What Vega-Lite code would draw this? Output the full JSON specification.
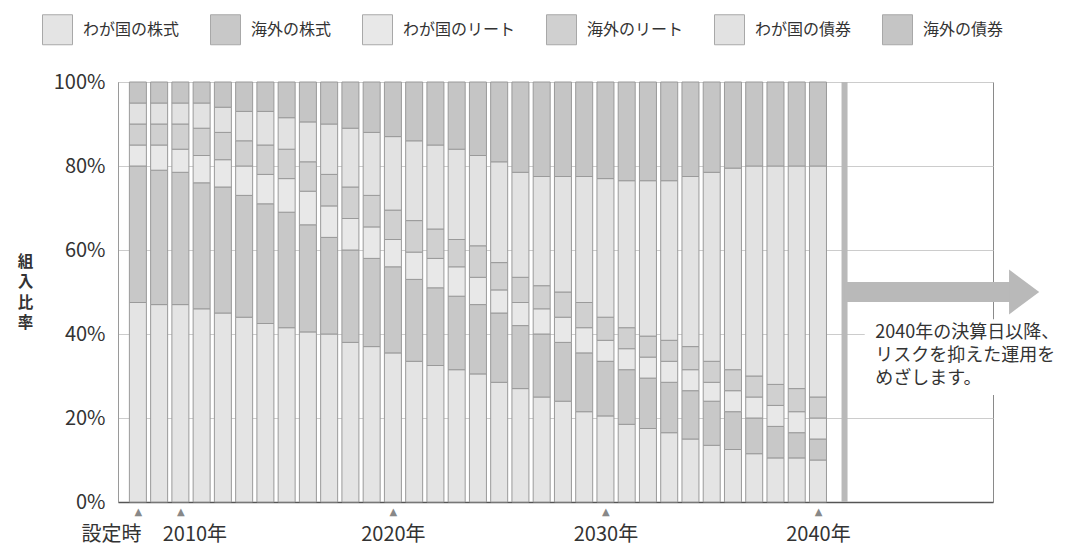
{
  "$schema": "https://vega.github.io/schema/vega-lite/v6.json",
  "width": 875,
  "height": 420,
  "autosize": {"type": "none"},
  "padding": {"left": 118, "top": 82, "right": 94, "bottom": 46},
  "background": "white",
  "config": {
    "font": "Noto Sans CJK JP",
    "view": {"stroke": "#8a8a8a", "strokeWidth": 1},
    "axis": {"labelFont": "Noto Sans CJK JP", "titleFont": "Noto Sans CJK JP"}
  },
  "resolve": {"axis": {"x": "independent"}},
  "layer": [
    {
      "data": {
        "values": [
          {"年": 2008, "わが国の株式": 47.5, "海外の株式": 32.5, "わが国のリート": 5, "海外のリート": 5, "わが国の債券": 5, "海外の債券": 5},
          {"年": 2009, "わが国の株式": 47, "海外の株式": 32, "わが国のリート": 6, "海外のリート": 5, "わが国の債券": 5, "海外の債券": 5},
          {"年": 2010, "わが国の株式": 47, "海外の株式": 31.5, "わが国のリート": 5.5, "海外のリート": 6, "わが国の債券": 5, "海外の債券": 5},
          {"年": 2011, "わが国の株式": 46, "海外の株式": 30, "わが国のリート": 6.5, "海外のリート": 6.5, "わが国の債券": 6, "海外の債券": 5},
          {"年": 2012, "わが国の株式": 45, "海外の株式": 30, "わが国のリート": 6.5, "海外のリート": 6.5, "わが国の債券": 6, "海外の債券": 6},
          {"年": 2013, "わが国の株式": 44, "海外の株式": 29, "わが国のリート": 7, "海外のリート": 6, "わが国の債券": 7, "海外の債券": 7},
          {"年": 2014, "わが国の株式": 42.5, "海外の株式": 28.5, "わが国のリート": 7, "海外のリート": 7, "わが国の債券": 8, "海外の債券": 7},
          {"年": 2015, "わが国の株式": 41.5, "海外の株式": 27.5, "わが国のリート": 8, "海外のリート": 7, "わが国の債券": 7.5, "海外の債券": 8.5},
          {"年": 2016, "わが国の株式": 40.5, "海外の株式": 25.5, "わが国のリート": 8, "海外のリート": 7, "わが国の債券": 9.5, "海外の債券": 9.5},
          {"年": 2017, "わが国の株式": 40, "海外の株式": 23, "わが国のリート": 7.5, "海外のリート": 7.5, "わが国の債券": 12, "海外の債券": 10},
          {"年": 2018, "わが国の株式": 38, "海外の株式": 22, "わが国のリート": 7.5, "海外のリート": 7.5, "わが国の債券": 14, "海外の債券": 11},
          {"年": 2019, "わが国の株式": 37, "海外の株式": 21, "わが国のリート": 7.5, "海外のリート": 7.5, "わが国の債券": 15, "海外の債券": 12},
          {"年": 2020, "わが国の株式": 35.5, "海外の株式": 20.5, "わが国のリート": 6.5, "海外のリート": 7, "わが国の債券": 17.5, "海外の債券": 13},
          {"年": 2021, "わが国の株式": 33.5, "海外の株式": 19.5, "わが国のリート": 6.5, "海外のリート": 7.5, "わが国の債券": 19, "海外の債券": 14},
          {"年": 2022, "わが国の株式": 32.5, "海外の株式": 18.5, "わが国のリート": 7, "海外のリート": 7, "わが国の債券": 20, "海外の債券": 15},
          {"年": 2023, "わが国の株式": 31.5, "海外の株式": 17.5, "わが国のリート": 7, "海外のリート": 6.5, "わが国の債券": 21.5, "海外の債券": 16},
          {"年": 2024, "わが国の株式": 30.5, "海外の株式": 16.5, "わが国のリート": 6.5, "海外のリート": 7.5, "わが国の債券": 21.5, "海外の債券": 17.5},
          {"年": 2025, "わが国の株式": 28.5, "海外の株式": 16.5, "わが国のリート": 5.5, "海外のリート": 6.5, "わが国の債券": 24, "海外の債券": 19},
          {"年": 2026, "わが国の株式": 27, "海外の株式": 15, "わが国のリート": 5.5, "海外のリート": 6, "わが国の債券": 25, "海外の債券": 21.5},
          {"年": 2027, "わが国の株式": 25, "海外の株式": 15, "わが国のリート": 6, "海外のリート": 5.5, "わが国の債券": 26, "海外の債券": 22.5},
          {"年": 2028, "わが国の株式": 24, "海外の株式": 14, "わが国のリート": 6, "海外のリート": 6, "わが国の債券": 27.5, "海外の債券": 22.5},
          {"年": 2029, "わが国の株式": 21.5, "海外の株式": 14, "わが国のリート": 6, "海外のリート": 6, "わが国の債券": 30, "海外の債券": 22.5},
          {"年": 2030, "わが国の株式": 20.5, "海外の株式": 13, "わが国のリート": 5, "海外のリート": 5.5, "わが国の債券": 33, "海外の債券": 23},
          {"年": 2031, "わが国の株式": 18.5, "海外の株式": 13, "わが国のリート": 5, "海外のリート": 5, "わが国の債券": 35, "海外の債券": 23.5},
          {"年": 2032, "わが国の株式": 17.5, "海外の株式": 12, "わが国のリート": 5, "海外のリート": 5, "わが国の債券": 37, "海外の債券": 23.5},
          {"年": 2033, "わが国の株式": 16.5, "海外の株式": 12, "わが国のリート": 5, "海外のリート": 5, "わが国の債券": 38, "海外の債券": 23.5},
          {"年": 2034, "わが国の株式": 15, "海外の株式": 11.5, "わが国のリート": 5, "海外のリート": 5.5, "わが国の債券": 40.5, "海外の債券": 22.5},
          {"年": 2035, "わが国の株式": 13.5, "海外の株式": 10.5, "わが国のリート": 4.5, "海外のリート": 5, "わが国の債券": 45, "海外の債券": 21.5},
          {"年": 2036, "わが国の株式": 12.5, "海外の株式": 9, "わが国のリート": 5, "海外のリート": 5, "わが国の債券": 48, "海外の債券": 20.5},
          {"年": 2037, "わが国の株式": 11.5, "海外の株式": 8.5, "わが国のリート": 5, "海外のリート": 5, "わが国の債券": 50, "海外の債券": 20},
          {"年": 2038, "わが国の株式": 10.5, "海外の株式": 7.5, "わが国のリート": 5, "海外のリート": 5, "わが国の債券": 52, "海外の債券": 20},
          {"年": 2039, "わが国の株式": 10.5, "海外の株式": 6, "わが国のリート": 5, "海外のリート": 5.5, "わが国の債券": 53, "海外の債券": 20},
          {"年": 2040, "わが国の株式": 10, "海外の株式": 5, "わが国のリート": 5, "海外のリート": 5, "わが国の債券": 55, "海外の債券": 20}
        ]
      },
      "transform": [
        {"fold": ["わが国の株式", "海外の株式", "わが国のリート", "海外のリート", "わが国の債券", "海外の債券"], "as": ["資産", "比率"]},
        {"calculate": "indexof(['わが国の株式', '海外の株式', 'わが国のリート', '海外のリート', 'わが国の債券', '海外の債券'], datum['資産'])", "as": "順"}
      ],
      "mark": {"type": "bar", "width": 17, "stroke": "#9a9a9a", "strokeWidth": 1, "clip": false},
      "encoding": {
        "x": {
          "field": "年", "type": "quantitative",
          "scale": {"domain": [2007.3, 2048.0], "nice": false, "zero": false},
          "axis": {
            "orient": "bottom",
            "values": [2008, 2010, 2020, 2030, 2040],
            "labelExpr": "'▲'",
            "labelColor": "#888888",
            "labelFont": "DejaVu Sans",
            "labelFontSize": 10,
            "labelPadding": 4,
            "ticks": false,
            "grid": false,
            "domainColor": "#555555",
            "domainWidth": 1.5,
            "title": null
          }
        },
        "y": {
          "field": "比率", "type": "quantitative", "stack": "zero",
          "scale": {"domain": [0, 100], "nice": false},
          "axis": {
            "values": [0, 20, 40, 60, 80, 100],
            "labelExpr": "datum.value + '%'",
            "labelFontSize": 20,
            "labelColor": "#333333",
            "labelPadding": 13,
            "ticks": false,
            "grid": true,
            "gridColor": "#cccccc",
            "gridWidth": 1,
            "domainColor": "#9a9a9a",
            "title": ["組", "入", "比", "率"],
            "titleAngle": 0,
            "titleFontSize": 15.5,
            "titleFontWeight": "bold",
            "titleColor": "#333333",
            "titleLineHeight": 20.5,
            "titleAlign": "center",
            "titleBaseline": "top",
            "titleX": -93,
            "titleY": 172
          }
        },
        "order": {"field": "順", "type": "quantitative", "sort": "ascending"},
        "color": {
          "field": "資産", "type": "nominal",
          "scale": {
            "domain": ["わが国の株式", "海外の株式", "わが国のリート", "海外のリート", "わが国の債券", "海外の債券"],
            "range": ["#e4e4e4", "#c8c8c8", "#e8e8e8", "#d0d0d0", "#e2e2e2", "#c5c5c5"]
          },
          "legend": {
            "orient": "none",
            "legendX": -76,
            "legendY": -68,
            "direction": "horizontal",
            "title": null,
            "symbolType": "square",
            "symbolSize": 900,
            "symbolStrokeColor": "#a8a8a8",
            "symbolStrokeWidth": 1,
            "labelFontSize": 16,
            "labelColor": "#333333",
            "labelOffset": 10,
            "columnPadding": 28,
            "labelLimit": 300
          }
        }
      }
    },
    {
      "data": {"values": [{}]},
      "mark": {"type": "rule", "color": "#b9b9b9", "strokeWidth": 6, "clip": false},
      "encoding": {
        "x": {
          "datum": 2041.25, "type": "quantitative",
          "axis": {
            "orient": "bottom",
            "values": [2008, 2010, 2020, 2030, 2040],
            "labelExpr": "datum.value == 2008 ? '設定時' : datum.value + '年'",
            "labelFontSize": 20,
            "labelColor": "#333333",
            "labelPadding": 22,
            "labelOffset": {"condition": [{"test": "datum.value == 2008", "value": -27}, {"test": "datum.value == 2010", "value": 14}], "value": 0},
            "ticks": false,
            "grid": false,
            "domain": false,
            "title": null
          }
        }
      }
    },
    {
      "data": {"values": [{}]},
      "mark": {"type": "rule", "color": "#b9b9b9", "strokeWidth": 20, "clip": false},
      "encoding": {
        "x": {"datum": 2041.25, "type": "quantitative", "axis": null},
        "x2": {"datum": 2049.4},
        "y": {"datum": 50, "type": "quantitative"}
      }
    },
    {
      "data": {"values": [{}]},
      "mark": {"type": "point", "shape": "M -0.67 -1 L 0.67 0 L -0.67 1 Z", "size": 2025, "filled": true, "fill": "#b9b9b9", "opacity": 1, "strokeWidth": 0, "clip": false},
      "encoding": {
        "x": {"datum": 2049.7, "type": "quantitative", "axis": null},
        "y": {"datum": 50, "type": "quantitative"}
      }
    },
    {
      "data": {"values": [{}]},
      "mark": {"type": "rect", "fill": "white", "clip": false},
      "encoding": {
        "x": {"datum": 2042.2, "type": "quantitative", "axis": null},
        "x2": {"datum": 2052.5},
        "y": {"datum": 43.5, "type": "quantitative"},
        "y2": {"datum": 25.5}
      }
    },
    {
      "data": {"values": [{}]},
      "mark": {
        "type": "text",
        "text": ["2040年の決算日以降、", "リスクを抑えた運用を", "めざします。"],
        "align": "left",
        "baseline": "top",
        "fontSize": 18,
        "lineHeight": 23,
        "color": "#333333",
        "clip": false
      },
      "encoding": {
        "x": {"datum": 2042.7, "type": "quantitative", "axis": null},
        "y": {"datum": 42.5, "type": "quantitative"}
      }
    }
  ]
}
